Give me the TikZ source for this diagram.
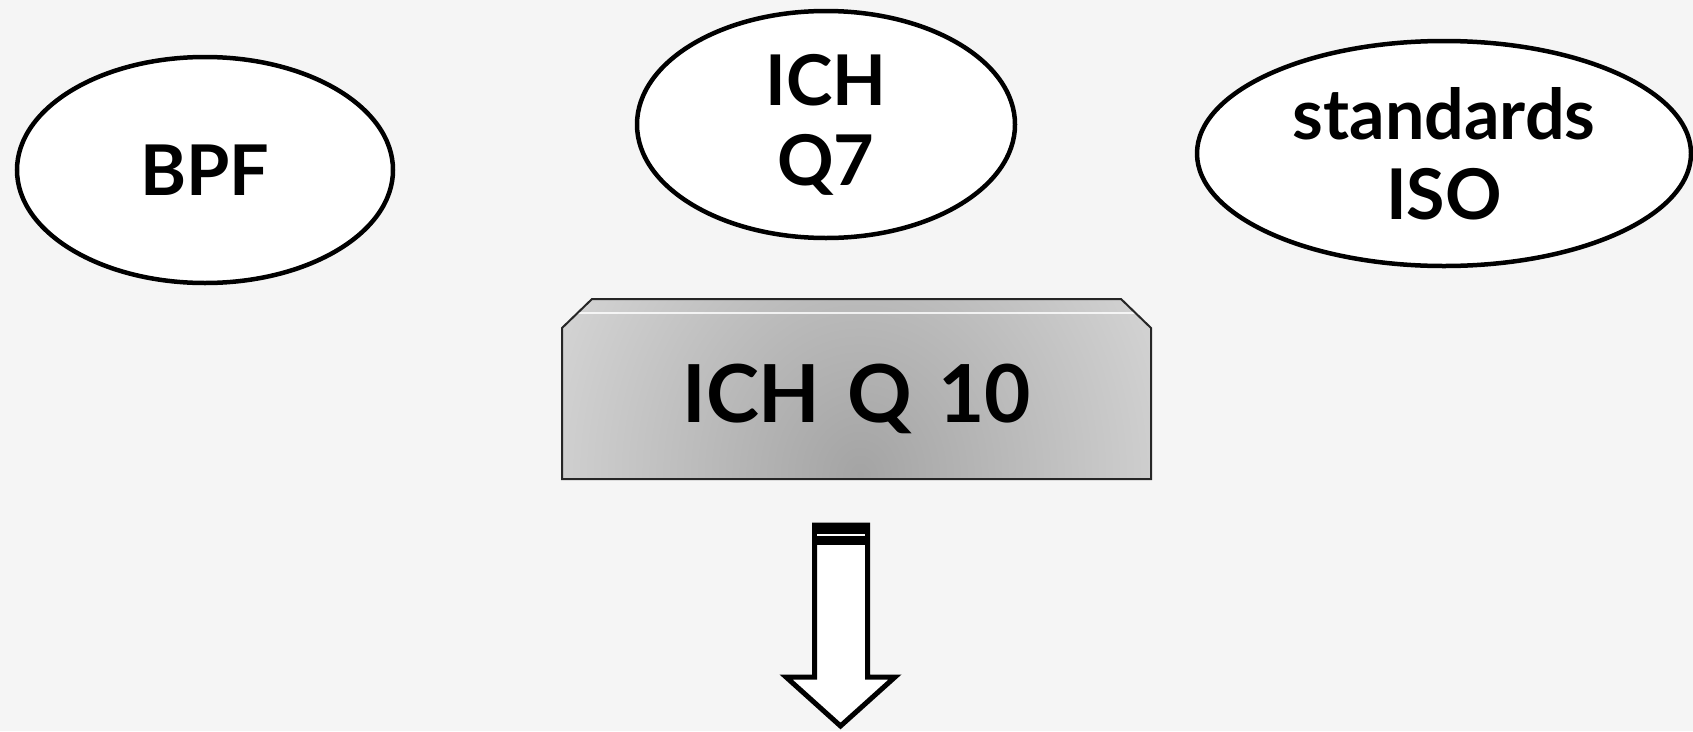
\documentclass[tikz,border=0pt]{standalone}
\usepackage{fontspec}
\setmainfont{Lato}
\usetikzlibrary{shapes.geometric}
\definecolor{bg}{HTML}{F5F5F5}
\definecolor{boxdark}{HTML}{A4A4A4}
\definecolor{boxlight}{HTML}{F2F2F2}
\begin{document}
\begin{tikzpicture}[x=1pt,y=-1pt,
  oval/.style={ellipse, draw=black, fill=white, line width=4.5pt, inner sep=0pt,
    font=\bfseries\fontsize{70}{80}\selectfont, align=center},
  boxtext/.style={font=\bfseries\fontsize{80}{84}\selectfont, anchor=base, inner sep=0pt},
  boxedge/.style={draw=black!85, line width=2pt},
  blockarrow/.style={draw=black, fill=white, line width=5pt, line join=miter}]
\fill[bg] (0,0) rectangle (1693,731);
\useasboundingbox (0,0) rectangle (1693,731);

% ellipses
\node[oval, minimum width=376, minimum height=226] (bpf) at (205,170) {BPF};
\node[oval, minimum width=378, minimum height=227] (q7) at (826,124.5) {ICH\\Q7};
\node[oval, minimum width=494, minimum height=225] (iso) at (1444,153.5) {standards\\ISO};

% ICH Q 10 box
\begin{scope}
  \clip (562,479) -- (562,328) -- (592,299) -- (1121,299) -- (1151,328) -- (1151,479) -- cycle;
  \fill[boxlight] (562,299) rectangle (1151,479);
  \shade[inner color=boxdark, outer color=boxlight] (860,475) ellipse [x radius=540, y radius=620];
  \draw[white, line width=1.5pt, opacity=0.8] (562,313) -- (1151,313);
\end{scope}
\draw[boxedge] (562,479) -- (562,328) -- (592,299) -- (1121,299) -- (1151,328) -- (1151,479) -- cycle;
\node[boxtext] (q10) at (856.5,422) {ICH\hspace{0.33em}Q\hspace{0.33em}10};

% block arrow
\draw[blockarrow] (814.5,525) -- (814.5,677) -- (786,677) -- (840.5,726) -- (895,677)
  -- (867.5,677) -- (867.5,525) -- cycle;
\fill[black] (812,523) rectangle (870,545);
\draw[white, line width=1.2pt] (817,535) -- (865,535);
\end{tikzpicture}
\end{document}
